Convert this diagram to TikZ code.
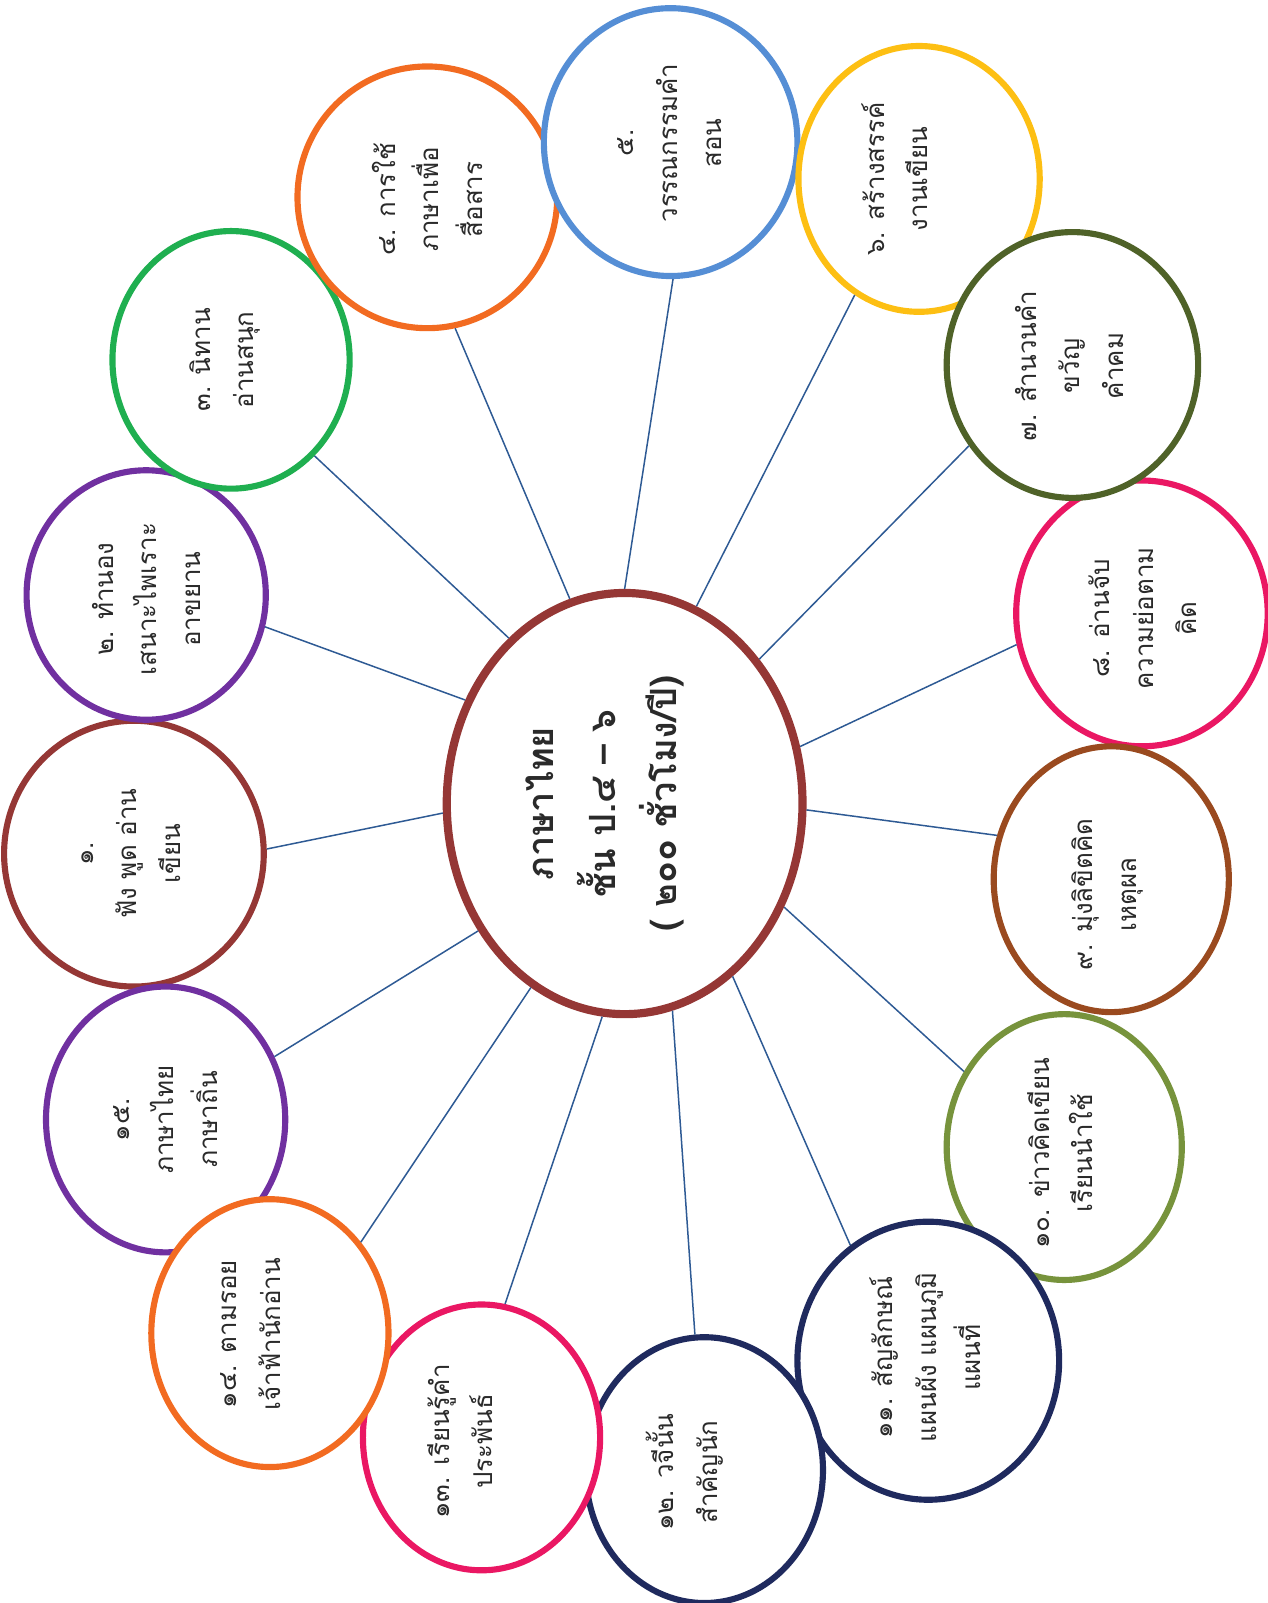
\documentclass[tikz,border=0pt]{standalone}
\usepackage{fontspec}
\newfontfamily\thaifont[Script=Thai]{Loma}
\usetikzlibrary{shapes.geometric}
\definecolor{cBrownRed}{HTML}{953735}
\definecolor{cPurple}{HTML}{7030A0}
\definecolor{cGreen}{HTML}{1FAF50}
\definecolor{cOrange}{HTML}{F26B21}
\definecolor{cBlue}{HTML}{558ED5}
\definecolor{cYellow}{HTML}{FDBF13}
\definecolor{cOliveDark}{HTML}{4F6228}
\definecolor{cPink}{HTML}{EA1763}
\definecolor{cBrown}{HTML}{9A4A1F}
\definecolor{cOlive}{HTML}{77933C}
\definecolor{cNavy}{HTML}{1F2A5E}
\definecolor{cLink}{HTML}{2E5A94}
\definecolor{cText}{HTML}{2A2A2A}
\begin{document}
\begin{tikzpicture}[x=0.75pt,y=-0.75pt,
  bub/.style={ellipse, draw, line width=4.5pt, fill=white, inner sep=0pt},
  bsz/.style 2 args={minimum width=#1*1.5pt, minimum height=#2*1.5pt},
  lbl/.style={rotate=90, align=center, text=cText, inner sep=0pt,
    font=\thaifont\fontsize{19}{32}\selectfont},
  clbl/.style={rotate=90, align=center, text=cText, inner sep=0pt,
    font=\thaifont\bfseries\fontsize{26.5}{45}\selectfont},
  conn/.style={draw=cLink, line width=1.1pt}]
\useasboundingbox (0,0) rectangle (1240,1568);

% circles
\node[bub, bsz={127}{130}, draw=cBrownRed] (c1) at (131,835) {};
\node[bub, bsz={117}{122}, draw=cPurple] (c2) at (143,582) {};
\node[bub, bsz={116}{126}, draw=cGreen] (c3) at (226,352) {};
\node[bub, bsz={127}{128}, draw=cOrange] (c4) at (418,193) {};
\node[bub, bsz={124}{131}, draw=cBlue] (c5) at (656,139) {};
\node[bub, bsz={118}{130}, draw=cYellow] (c6) at (899,175) {};
\node[bub, bsz={123}{130}, draw=cPink] (c8) at (1117,600) {};
\node[bub, bsz={123}{130}, draw=cOliveDark] (c7) at (1049,357) {};
\node[bub, bsz={115}{130}, draw=cBrown] (c9) at (1087,860) {};
\node[bub, bsz={115}{130}, draw=cOlive] (c10) at (1041,1122) {};
\node[bub, bsz={128}{136}, draw=cNavy] (c11) at (908,1331) {};
\node[bub, bsz={116}{130}, draw=cNavy] (c12) at (689,1438) {};
\node[bub, bsz={116}{130}, draw=cPink] (c13) at (471,1406) {};
\node[bub, bsz={117}{130}, draw=cPurple] (c15) at (162,1095) {};
\node[bub, bsz={116}{131}, draw=cOrange] (c14) at (264,1304) {};

% centre
\node[bub, bsz={174}{206}, draw=cBrownRed, line width=6pt] (c0) at (611,786) {};

% connectors
\draw[conn] (c1.2.7) -- (c0.183.3);
\draw[conn] (c2.-15.7) -- (c0.147.9);
\draw[conn] (c3.-49.6) -- (c0.125.8);
\draw[conn] (c4.-78.9) -- (c0.105.9);
\draw[conn] (c5.-89.1) -- (c0.90.3);
\draw[conn] (c6.-119.6) -- (c0.70.2);
\draw[conn] (c7.-142.9) -- (c0.47.3);
\draw[conn] (c8.-166.1) -- (c0.18.5);
\draw[conn] (c9.159.4) -- (c0.-2.9);
\draw[conn] (c10.143) -- (c0.-33.8);
\draw[conn] (c11.124.4) -- (c0.-58.9);
\draw[conn] (c12.94) -- (c0.-77.2);
\draw[conn] (c13.80.8) -- (c0.-96.9);
\draw[conn] (c14.45.4) -- (c0.-117.7);
\draw[conn] (c15.30.3) -- (c0.-139.9);

% labels
\node[clbl] (t0) at (592,786) {ภาษาไทย\\ชั้น ป.๔ – ๖\\( ๒๐๐ ชั่วโมง/ปี)};
\node[lbl] (t1) at (128,835) {๑.\\ฟัง พูด อ่าน\\เขียน};
\node[lbl] (t2) at (143,586) {๒. ทำนอง\\เสนาะไพเราะ\\อาขยาน};
\node[lbl] (t3) at (220,352) {๓. นิทาน\\อ่านสนุก};
\node[lbl] (t4) at (418,195) {๔. การใช้\\ภาษาเพื่อ\\สื่อสาร};
\node[lbl] (t5) at (655,140) {๕.\\วรรณกรรมคำ\\สอน};
\node[lbl] (t6) at (875,175) {๖. สร้างสรรค์\\งานเขียน};
\node[lbl] (t7) at (1046,358) {๗. สำนวนคำ\\ขวัญ\\คำคม};
\node[lbl] (t8) at (1118,605) {๘. อ่านจับ\\ความย่อตาม\\คิด};
\node[lbl] (t9) at (1083,875) {๙. มุ่งลิขิตคิด\\เหตุผล};
\node[lbl] (t10) at (1037,1128) {๑๐. ข่าวคิดเขียน\\เรียนนำใช้};
\node[lbl] (t11) at (905,1328) {๑๑. สัญลักษณ์\\แผนผัง แผนภูมิ\\แผนที่};
\node[lbl] (t12) at (670,1440) {๑๒. วจีนั้น\\สำคัญนัก};
\node[lbl] (t13) at (450,1410) {๑๓. เรียนรู้คำ\\ประพันธ์};
\node[lbl] (t14) at (245,1305) {๑๔. ตามรอย\\เจ้าฟ้านักอ่าน};
\node[lbl] (t15) at (162,1095) {๑๕.\\ภาษาไทย\\ภาษาถิ่น};
\end{tikzpicture}
\end{document}
